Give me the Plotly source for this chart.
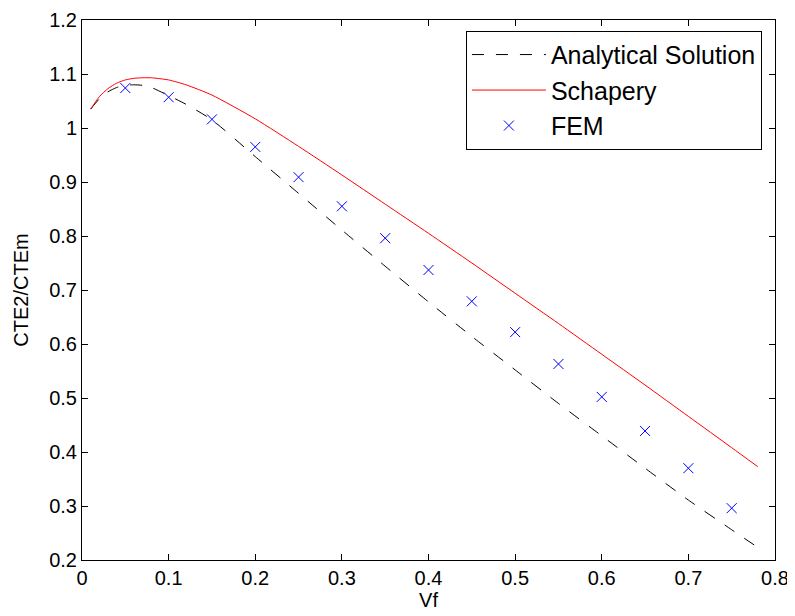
import plotly.graph_objects as go

# Analytical solution (black dashed)
vf_analytical = [0.01, 0.02, 0.03, 0.04, 0.05, 0.06, 0.07, 0.08, 0.10, 0.12, 0.15,
                 0.20, 0.25, 0.30, 0.35, 0.40, 0.45, 0.50, 0.55, 0.60, 0.65, 0.70, 0.75, 0.78]
cte_analytical = [1.035, 1.054, 1.067, 1.075, 1.079, 1.080, 1.079, 1.075, 1.060, 1.044, 1.015,
                  0.947, 0.879, 0.811, 0.744, 0.678, 0.614, 0.552, 0.490, 0.430, 0.370, 0.311, 0.256, 0.2235]

# Schapery (red solid)
vf_schapery = [0.01, 0.02, 0.03, 0.04, 0.05, 0.06, 0.07, 0.08, 0.10, 0.12, 0.15,
               0.20, 0.25, 0.30, 0.35, 0.40, 0.45, 0.50, 0.55, 0.60, 0.65, 0.70, 0.75, 0.78]
cte_schapery = [1.035, 1.058, 1.073, 1.083, 1.089, 1.092, 1.093, 1.093, 1.089, 1.080, 1.061,
                1.017, 0.966, 0.913, 0.859, 0.805, 0.750, 0.694, 0.638, 0.581, 0.524, 0.466, 0.408, 0.373]

# FEM (blue x markers)
vf_fem = [0.05, 0.10, 0.15, 0.20, 0.25, 0.30, 0.35, 0.40, 0.45, 0.50, 0.55, 0.60, 0.65, 0.70, 0.75]
cte_fem = [1.074, 1.057, 1.016, 0.965, 0.909, 0.855, 0.796, 0.737, 0.679, 0.622, 0.563, 0.502, 0.439, 0.370, 0.296]

x_tickvals = [0, 0.1, 0.2, 0.3, 0.4, 0.5, 0.6, 0.7, 0.8]
x_ticktext = ["0", "0.1", "0.2", "0.3", "0.4", "0.5", "0.6", "0.7", "0.8"]
y_tickvals = [0.2, 0.3, 0.4, 0.5, 0.6, 0.7, 0.8, 0.9, 1.0, 1.1, 1.2]
y_ticktext = ["0.2", "0.3", "0.4", "0.5", "0.6", "0.7", "0.8", "0.9", "1", "1.1", "1.2"]

FONT = "Liberation Sans, Arial, Helvetica, sans-serif"

fig = go.Figure()
fig.add_trace(go.Scatter(
    x=vf_analytical, y=cte_analytical, mode="lines", name="Analytical Solution",
    line=dict(color="black", width=1, dash="12px,12px", shape="spline", smoothing=0.6),
    legendgroup="a"))
fig.add_trace(go.Scatter(
    x=vf_schapery, y=cte_schapery, mode="lines", name="Schapery",
    line=dict(color="#ff0000", width=1, shape="spline", smoothing=0.6),
    legendgroup="b"))
fig.add_trace(go.Scatter(
    x=vf_fem, y=cte_fem, mode="markers", name="FEM",
    marker=dict(symbol="x-thin", size=10, color="#0000ff",
                line=dict(color="#0000ff", width=1)),
    legendgroup="c"))

axis_common = dict(
    showline=True, linecolor="black", linewidth=1, mirror="ticks",
    ticks="inside", ticklen=6, tickcolor="black", tickwidth=1,
    showgrid=False, zeroline=False, automargin=False,
    tickfont=dict(family=FONT, size=20, color="black"),
)

fig.update_xaxes(range=[0, 0.8], tickvals=x_tickvals, ticktext=x_ticktext,
                 title=dict(text="Vf", font=dict(family=FONT, size=20, color="black"), standoff=0),
                 **axis_common)
fig.update_yaxes(range=[0.2, 1.2], tickvals=y_tickvals, ticktext=y_ticktext,
                 title=dict(text="CTE2/CTEm", font=dict(family=FONT, size=20, color="black"), standoff=15),
                 **axis_common)

# page body has an 8px default margin, so the figure is sized and offset to compensate
fig.update_layout(
    width=787, height=608,
    margin=dict(l=74, r=20, t=12, b=56),
    plot_bgcolor="white", paper_bgcolor="white",
    font=dict(family=FONT, size=20, color="black"),
    legend=dict(
        x=0.554, y=0.98, xanchor="left", yanchor="top",
        bordercolor="black", borderwidth=1, bgcolor="white",
        font=dict(family=FONT, size=25, color="black"),
        traceorder="grouped", tracegroupgap=0, itemwidth=74,
    ),
    showlegend=True,
)

fig.write_html("out.html")
